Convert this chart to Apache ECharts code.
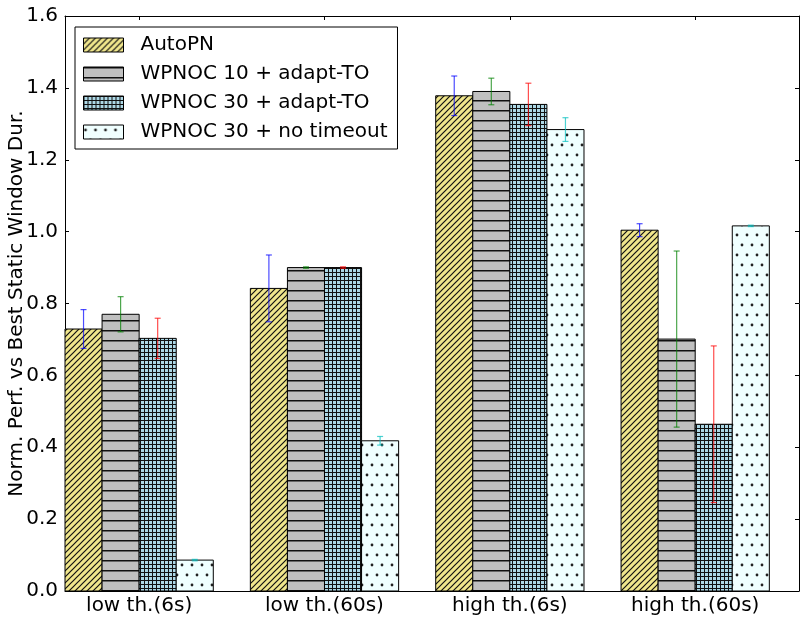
<!DOCTYPE html>
<html>
<head>
<meta charset="utf-8">
<script src="https://cdn.jsdelivr.net/npm/echarts@6/dist/echarts.min.js"></script>
<style>
  html, body { margin: 0; padding: 0; background: #fff; }
  #chart { width: 801px; height: 618px; }
</style>
</head>
<body>
<div id="chart"></div>
<script>
// Workload scenarios on the x axis
const categories = ['low th.(6s)', 'low th.(60s)', 'high th.(6s)', 'high th.(60s)'];
const seriesNames = ['AutoPN', 'WPNOC 10 + adapt-TO', 'WPNOC 30 + adapt-TO', 'WPNOC 30 + no timeout'];

// Mean normalized performance per scenario
const autoPN = [0.729, 0.842, 1.378, 1.004];
const wpnoc10Adapt = [0.770, 0.900, 1.390, 0.701];
const wpnoc30Adapt = [0.703, 0.900, 1.354, 0.464];
const wpnoc30NoTimeout = [0.086, 0.418, 1.284, 1.016];

// Half-width of the error bars
const autoPNErr = [0.054, 0.093, 0.055, 0.018];
const wpnoc10AdaptErr = [0.049, 0.002, 0.037, 0.245];
const wpnoc30AdaptErr = [0.056, 0.002, 0.059, 0.218];
const wpnoc30NoTimeoutErr = [0.002, 0.012, 0.033, 0.002];

const yTicks = [0, 0.2, 0.4, 0.6, 0.8, 1.0, 1.2, 1.4, 1.6];

const means = [autoPN, wpnoc10Adapt, wpnoc30Adapt, wpnoc30NoTimeout];
const errs = [autoPNErr, wpnoc10AdaptErr, wpnoc30AdaptErr, wpnoc30NoTimeoutErr];
const errColors = ['rgba(0,0,255,0.7)', 'rgba(0,128,0,0.7)', 'rgba(255,0,0,0.7)', 'rgba(0,191,191,0.7)'];

// Each group starts at an integer position; bars are 0.2 wide, side by side
const BAR_W = 0.2;
const X_MIN = 0;
const X_MAX = 3.96;
const FONT = 'DejaVu Sans';

// Hatch fills drawn onto small tiles
function makePattern(bg, w, h, draw) {
  const c = document.createElement('canvas');
  c.width = w; c.height = h;
  const ctx = c.getContext('2d');
  ctx.fillStyle = bg;
  ctx.fillRect(0, 0, w, h);
  draw(ctx, w, h);
  return { image: c, repeat: 'repeat' };
}

const patterns = [
  // diagonal "/" lines on khaki
  makePattern('#f0e68c', 6, 6, (ctx, w, h) => {
    ctx.strokeStyle = '#111';
    ctx.lineWidth = 1.2;
    ctx.beginPath();
    ctx.moveTo(-1, h + 1); ctx.lineTo(w + 1, -1);
    ctx.moveTo(-1, 1); ctx.lineTo(1, -1);
    ctx.moveTo(w - 1, h + 1); ctx.lineTo(w + 1, h - 1);
    ctx.stroke();
  }),
  // horizontal lines on silver
  makePattern('#c0c0c0', 10, 10, (ctx, w) => {
    ctx.fillStyle = '#111';
    ctx.fillRect(0, 0, w, 1.5);
  }),
  // dense grid on light blue
  makePattern('#add8e6', 4, 4, (ctx, w, h) => {
    ctx.fillStyle = '#111';
    ctx.fillRect(0, 0, w, 1);
    ctx.fillRect(0, 0, 1, h);
  }),
  // staggered dots on azure
  makePattern('#f0ffff', 10, 20, (ctx) => {
    ctx.fillStyle = '#222';
    [[2, 5], [7, 15]].forEach(([x, y]) => {
      ctx.beginPath(); ctx.arc(x, y, 1.4, 0, Math.PI * 2); ctx.fill();
    });
  })
];

function barX(i, k) {
  return k + BAR_W * (i + 0.5);
}

function barSeries(i) {
  return {
    type: 'custom',
    name: seriesNames[i],
    xAxisIndex: 0,
    yAxisIndex: 0,
    z: 2,
    encode: { x: 0, y: 1 },
    data: means[i].map((v, k) => [barX(i, k), v]),
    renderItem: function (params, api) {
      const x = api.value(0), y = api.value(1);
      const p0 = api.coord([x - BAR_W / 2, 0]);
      const p1 = api.coord([x + BAR_W / 2, y]);
      return {
        type: 'rect',
        shape: { x: p0[0], y: p1[1], width: p1[0] - p0[0], height: p0[1] - p1[1] },
        style: { fill: patterns[i], stroke: '#000', lineWidth: 1 }
      };
    }
  };
}

function errorSeries(i) {
  return {
    type: 'custom',
    name: 'err-' + i,
    xAxisIndex: 0,
    yAxisIndex: 0,
    z: 5,
    encode: { x: 0, y: [1, 2] },
    data: means[i].map((v, k) => [barX(i, k), v - errs[i][k], v + errs[i][k]]),
    renderItem: function (params, api) {
      const x = api.value(0);
      const lo = api.coord([x, api.value(1)]);
      const hi = api.coord([x, api.value(2)]);
      const cap = 3;
      const style = { stroke: errColors[i], lineWidth: 1.2 };
      return {
        type: 'group',
        children: [
          { type: 'line', shape: { x1: lo[0], y1: lo[1], x2: hi[0], y2: hi[1] }, style },
          { type: 'line', shape: { x1: lo[0] - cap, y1: lo[1], x2: lo[0] + cap, y2: lo[1] }, style },
          { type: 'line', shape: { x1: hi[0] - cap, y1: hi[1], x2: hi[0] + cap, y2: hi[1] }, style }
        ]
      };
    }
  };
}

// Category ticks sit at the centre of each group of four bars
const tickPos = categories.map((c, k) => k + 2 * BAR_W);
const axisLineStyle = { color: '#000', width: 1 };

const option = {
  backgroundColor: '#fff',
  animation: false,
  grid: { left: 65, right: 2, top: 16, bottom: 27, containLabel: false, outerBoundsMode: 'none' },
  legend: {
    left: 75,
    top: 27,
    orient: 'vertical',
    borderColor: '#000',
    borderWidth: 1,
    padding: [8, 10, 7, 8],
    itemWidth: 40,
    itemHeight: 14,
    itemGap: 9,
    textStyle: { fontSize: 20, fontFamily: FONT, color: '#000', padding: [0, 0, 0, 12] },
    data: seriesNames.map((n, i) => ({
      name: n,
      icon: 'rect',
      itemStyle: { color: patterns[i], borderColor: '#000', borderWidth: 1 }
    }))
  },
  xAxis: [
    {
      type: 'value',
      position: 'bottom',
      min: X_MIN,
      max: X_MAX,
      axisLine: { show: true, onZero: false, lineStyle: axisLineStyle },
      axisTick: { show: true, inside: true, length: 4, customValues: tickPos, lineStyle: axisLineStyle },
      axisLabel: {
        customValues: tickPos,
        formatter: v => categories[Math.round(v - 2 * BAR_W)],
        fontSize: 20, fontFamily: FONT, color: '#000', margin: 5
      },
      splitLine: { show: false }
    },
    {
      type: 'value',
      position: 'top',
      min: X_MIN,
      max: X_MAX,
      axisLine: { show: true, onZero: false, lineStyle: axisLineStyle },
      axisTick: { show: true, inside: true, length: 4, customValues: tickPos, lineStyle: axisLineStyle },
      axisLabel: { show: false },
      splitLine: { show: false }
    }
  ],
  yAxis: [
    {
      type: 'value',
      position: 'left',
      min: yTicks[0],
      max: yTicks[yTicks.length - 1],
      interval: 0.2,
      name: 'Norm. Perf. vs Best Static Window Dur.',
      nameLocation: 'middle',
      nameGap: 38,
      nameMoveOverlap: false,
      nameTextStyle: { fontSize: 20, fontFamily: FONT, color: '#000' },
      axisLine: { show: true, onZero: false, lineStyle: axisLineStyle },
      axisTick: { show: true, inside: true, length: 4, lineStyle: axisLineStyle },
      axisLabel: { formatter: v => v.toFixed(1), fontSize: 20, fontFamily: FONT, color: '#000', margin: 7 },
      splitLine: { show: false }
    },
    {
      type: 'value',
      position: 'right',
      min: yTicks[0],
      max: yTicks[yTicks.length - 1],
      interval: 0.2,
      axisLine: { show: true, onZero: false, lineStyle: axisLineStyle },
      axisTick: { show: true, inside: true, length: 4, lineStyle: axisLineStyle },
      axisLabel: { show: false },
      splitLine: { show: false }
    }
  ],
  series: [0, 1, 2, 3].map(barSeries).concat([0, 1, 2, 3].map(errorSeries))
};

const chart = echarts.init(document.getElementById('chart'), null, { renderer: 'canvas' });
chart.setOption(option);
</script>
</body>
</html>
